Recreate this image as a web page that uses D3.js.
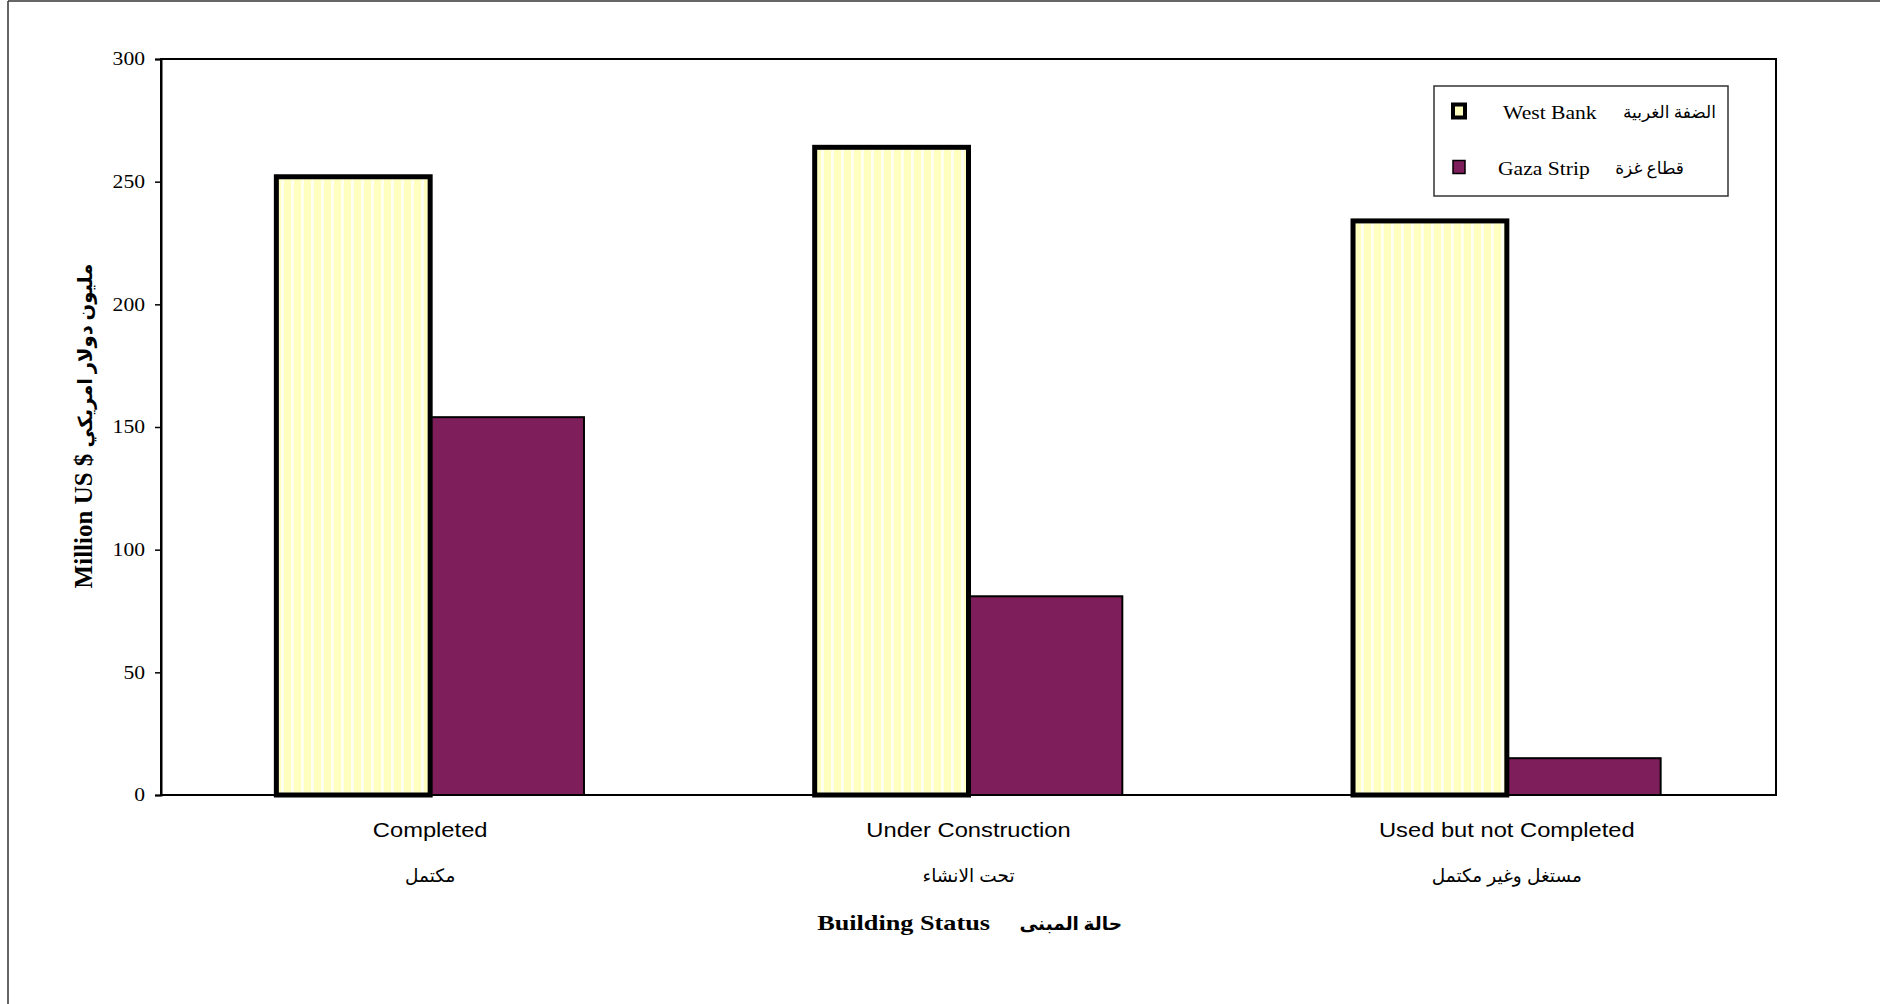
<!DOCTYPE html>
<html>
<head>
<meta charset="utf-8">
<script src="https://cdn.jsdelivr.net/npm/d3@7"></script>
<style>
  html, body { margin: 0; padding: 0; background: #fff; }
  svg { display: block; }
</style>
</head>
<body>
<svg id="chart" width="1880" height="1004"></svg>
<script>
// Building value by status, million US $
const categoriesEn = ["Completed", "Under Construction", "Used but not Completed"];
const categoriesAr = ["مكتمل", "تحت الانشاء", "مستغل وغير مكتمل"];
const seriesEn = ["West Bank", "Gaza Strip"];
const seriesAr = ["الضفة الغربية", "قطاع غزة"];
const westBank = [252, 264, 234];
const gazaStrip = [154, 81, 15];
const yTicks = [0, 50, 100, 150, 200, 250, 300];

const serif = "'Liberation Serif', 'Times New Roman', 'DejaVu Sans', serif";
const sans = "'Liberation Sans', Arial, 'DejaVu Sans', sans-serif";

const svg = d3.select("#chart");
const plot = { left: 161, right: 1776, top: 59, bottom: 795 };

// text drawn slightly wide, the way the chart's typefaces appear
function wideText(parent, x, y, str, opts) {
  const t = parent.append("text")
    .attr("transform", `translate(${x},${y}) scale(${opts.sx || 1},1)`)
    .attr("text-anchor", opts.anchor || "start")
    .attr("font-family", opts.family)
    .attr("font-size", opts.size)
    .attr("font-weight", opts.weight || "normal")
    .attr("fill", "#000")
    .text(str);
  return t;
}

// frame lines around the chart area
svg.append("line").attr("x1", 8).attr("x2", 8).attr("y1", 1).attr("y2", 1004)
  .attr("stroke", "#333").attr("stroke-width", 1.5);
svg.append("line").attr("x1", 8).attr("x2", 1880).attr("y1", 1).attr("y2", 1)
  .attr("stroke", "#333").attr("stroke-width", 1.5);

// vertical-stripe fill for the West Bank bars
const defs = svg.append("defs");
const pat = defs.append("pattern").attr("id", "vstripe")
  .attr("patternUnits", "userSpaceOnUse").attr("width", 10).attr("height", 10);
pat.append("rect").attr("width", 10).attr("height", 10).attr("fill", "#FFFFC0");
pat.append("rect").attr("x", 1).attr("width", 3).attr("height", 10).attr("fill", "#FFFFF0");

const x0 = d3.scaleBand().domain(categoriesEn)
  .range([plot.left, plot.right])
  .paddingInner(1.5 / 3.5).paddingOuter(0.75 / 3.5);
const x1 = d3.scaleBand().domain(seriesEn).range([0, x0.bandwidth()]);
const y = d3.scaleLinear().domain([0, 300]).range([plot.bottom, plot.top]);

// plot area box
svg.append("rect")
  .attr("x", plot.left).attr("y", plot.top)
  .attr("width", plot.right - plot.left).attr("height", plot.bottom - plot.top)
  .attr("fill", "none").attr("stroke", "#000").attr("stroke-width", 2);

// y axis
const yAxis = svg.append("g").attr("transform", `translate(${plot.left},0)`)
  .call(d3.axisLeft(y).tickValues(yTicks).tickSize(6).tickPadding(9));
yAxis.select(".domain").attr("stroke-width", 2);
yAxis.selectAll(".tick line").attr("stroke-width", 1.5);
yAxis.selectAll(".tick text")
  .attr("font-family", serif).attr("font-size", 18).attr("fill", "#000")
  .attr("x", -16 / 1.2).attr("transform", "scale(1.2,1)");

// Gaza Strip bars
svg.append("g").selectAll("rect")
  .data(categoriesEn.map((c, i) => ({ c, v: gazaStrip[i] })))
  .join("rect")
  .attr("x", d => x0(d.c) + x1("Gaza Strip"))
  .attr("y", d => y(d.v))
  .attr("width", x1.bandwidth())
  .attr("height", d => y(0) - y(d.v))
  .attr("fill", "#7E1F5B").attr("stroke", "#000").attr("stroke-width", 2);

// West Bank bars
svg.append("g").selectAll("rect")
  .data(categoriesEn.map((c, i) => ({ c, v: westBank[i] })))
  .join("rect")
  .attr("x", d => x0(d.c) + x1("West Bank"))
  .attr("y", d => y(d.v))
  .attr("width", x1.bandwidth())
  .attr("height", d => y(0) - y(d.v))
  .attr("fill", "url(#vstripe)").attr("stroke", "#000").attr("stroke-width", 5);

// category labels (English over Arabic)
const cx = c => x0(c) + x0.bandwidth() / 2;
const catG = svg.append("g");
categoriesEn.forEach((c, i) => {
  wideText(catG, cx(c), 837, c, { family: sans, size: 21, sx: 1.13, anchor: "middle" });
  wideText(catG, cx(c), 882, categoriesAr[i], { family: sans, size: 18.5, anchor: "middle" });
});

// x axis title
wideText(svg, 990, 930, "Building Status",
  { family: serif, size: 21, weight: "bold", sx: 1.25, anchor: "end" });
wideText(svg, 1122, 930, "حالة المبنى",
  { family: serif, size: 18.5, weight: "bold", anchor: "end" });

// y axis title
const yt = svg.append("text")
  .attr("transform", "translate(92,426) rotate(-90)")
  .attr("text-anchor", "middle")
  .attr("font-family", serif).attr("font-weight", "bold");
yt.append("tspan").attr("font-size", 25).text("Million US $ ");
yt.append("tspan").attr("font-size", 19.5).text("مليون دولار امريكي");

// legend
const lg = svg.append("g");
lg.append("rect").attr("x", 1434).attr("y", 86).attr("width", 294).attr("height", 110)
  .attr("fill", "#fff").attr("stroke", "#333").attr("stroke-width", 1.5);
const legendRows = [
  { en: seriesEn[0], ar: seriesAr[0], fill: "#FFFFC0", sw: 4, cy: 111, tx: 1503, ax: 1716 },
  { en: seriesEn[1], ar: seriesAr[1], fill: "#7E1F5B", sw: 1.5, cy: 167, tx: 1498, ax: 1684 }
];
lg.selectAll("rect.key").data(legendRows).join("rect").attr("class", "key")
  .attr("x", 1453).attr("y", d => d.cy - 6.5).attr("width", 12).attr("height", 13)
  .attr("fill", d => d.fill).attr("stroke", "#000").attr("stroke-width", d => d.sw);
legendRows.forEach(d => {
  wideText(lg, d.tx, d.cy + 8, d.en, { family: serif, size: 18, sx: 1.2 });
  wideText(lg, d.ax, d.cy + 7, d.ar, { family: serif, size: 17, anchor: "end" });
});
</script>
</body>
</html>
